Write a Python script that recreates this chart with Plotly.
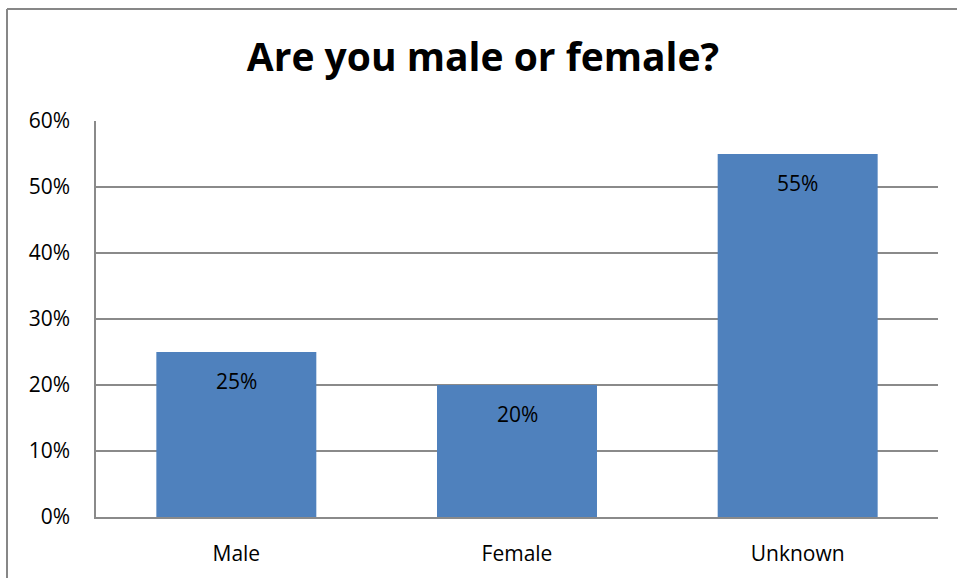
import plotly.graph_objects as go

categories = ["Male", "Female", "Unknown"]
shares = [0.25, 0.20, 0.55]
labels = ["25%", "20%", "55%"]
tick_vals = [0, 0.1, 0.2, 0.3, 0.4, 0.5, 0.6]
tick_text = ["0%", "10%", "20%", "30%", "40%", "50%", "60%"]

FONT = "Open Sans"
GRID = "#8a8a8a"

W, H = 957, 578
L, R, T, B = 96, 19, 121, 61
pw, ph = W - L - R, H - T - B

fig = go.Figure()
fig.add_trace(go.Bar(x=categories, y=shares, marker=dict(color="#4f81bd", line=dict(width=0)),
                     width=0.57, hoverinfo="skip"))

# data labels just inside the top of each bar
for cat, val, lab in zip(categories, shares, labels):
    fig.add_annotation(x=cat, y=val, text=lab, showarrow=False, yanchor="top", yshift=-13,
                       font=dict(family=FONT, size=21, color="black"))

# chart border (only left/top visible in the frame)
bx = (7 - L) / pw
by = 1 + (T - 9) / ph
fig.add_shape(type="line", xref="paper", yref="paper", x0=bx, x1=bx, y0=-0.5, y1=by,
              line=dict(color="#878787", width=2))
fig.add_shape(type="line", xref="paper", yref="paper", x0=bx, x1=1.5, y0=by, y1=by,
              line=dict(color="#878787", width=2))

fig.update_layout(
    width=W, height=H,
    margin=dict(l=L, r=R, t=T, b=B),
    paper_bgcolor="white", plot_bgcolor="white",
    showlegend=False,
    title=dict(text="<b>Are you male or female?</b>", x=483 / W, xref="container", xanchor="center",
               y=1 - 57 / H, yref="container", yanchor="middle",
               font=dict(family=FONT, size=39, color="black")),
    font=dict(family=FONT, size=21, color="black"),
)
fig.update_xaxes(showline=True, linecolor=GRID, linewidth=1.5, showgrid=False, ticks="",
                 ticklabelstandoff=17, tickfont=dict(family=FONT, size=21, color="black"),
                 automargin=False, fixedrange=True)
fig.update_yaxes(range=[0, 0.6], tickvals=tick_vals, ticktext=tick_text, showgrid=True,
                 gridcolor=GRID, gridwidth=1.5, showline=True, linecolor=GRID, linewidth=1.5,
                 zeroline=False, ticks="", ticklabelstandoff=20,
                 tickfont=dict(family=FONT, size=21, color="black"), automargin=False,
                 fixedrange=True)

# drop the default page margin so the figure fills the window exactly
fig.write_html("out.html", config={"displayModeBar": False},
               post_script="document.body.style.margin = '0';")
